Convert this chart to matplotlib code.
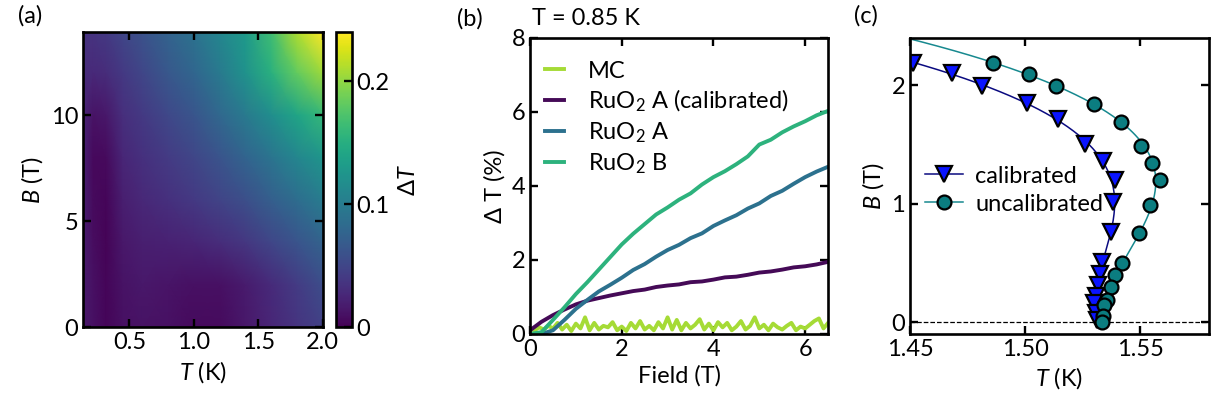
import matplotlib
matplotlib.use("Agg")
import matplotlib.pyplot as plt
import numpy as np

plt.rcParams['font.family'] = ['Lato', 'DejaVu Sans']
plt.rcParams['mathtext.fontset'] = 'custom'
plt.rcParams['mathtext.rm'] = 'Lato'
plt.rcParams['mathtext.it'] = 'Lato:italic'
plt.rcParams['font.size'] = 17
plt.rcParams['axes.linewidth'] = 1.9
for ax_name in ('xtick', 'ytick'):
    plt.rcParams[ax_name + '.direction'] = 'in'
    plt.rcParams[ax_name + '.major.size'] = 5.5
    plt.rcParams[ax_name + '.major.width'] = 1.7
plt.rcParams['xtick.top'] = True
plt.rcParams['ytick.right'] = True

# (a) temperature error map, dT vs T and B
map_T = [0.14, 0.22, 0.32, 0.45, 0.6, 0.8, 1.0, 1.2, 1.4, 1.6, 1.8, 2.0]
map_B = [0, 2, 4, 6, 8, 10, 12, 13.9]
map_dT = [
    [.015, .010, .003, .010, .012, .010, .006, .006, .015, .026, .036, .046],
    [.017, .010, .003, .012, .015, .013, .010, .010, .017, .029, .042, .056],
    [.018, .008, .002, .015, .020, .022, .025, .030, .038, .050, .062, .075],
    [.020, .006, .003, .020, .027, .033, .040, .048, .058, .072, .085, .100],
    [.022, .005, .006, .026, .033, .042, .050, .062, .076, .092, .110, .125],
    [.025, .012, .015, .032, .040, .052, .063, .080, .098, .118, .140, .160],
    [.030, .028, .030, .040, .050, .065, .078, .098, .122, .152, .182, .205],
    [.035, .036, .040, .050, .060, .075, .090, .110, .130, .165, .210, .240],
]

# (b) field dependence at T = 0.85 K
field = np.arange(0, 6.51, 0.25)
field_mc = np.arange(0, 6.51, 0.1)
dT_mc = [0.05, 0.10, 0.18, 0.12, 0.22, 0.15, 0.30, 0.12, 0.25, 0.08,
         0.28, 0.15, 0.45, 0.10, 0.30, 0.12, 0.22, 0.18, 0.32, 0.10,
         0.20, 0.08, 0.30, 0.15, 0.35, 0.12, 0.22, 0.10, 0.32, 0.15,
         0.45, 0.12, 0.38, 0.10, 0.30, 0.15, 0.25, 0.40, 0.12, 0.28,
         0.10, 0.32, 0.18, 0.30, 0.10, 0.20, 0.35, 0.12, 0.22, 0.45,
         0.15, 0.25, 0.10, 0.28, 0.18, 0.12, 0.22, 0.30, 0.10, 0.20,
         0.15, 0.25, 0.35, 0.42, 0.15, 0.30]
dT_a_cal = [0.10, 0.33, 0.51, 0.66, 0.80, 0.90, 0.97, 1.04, 1.10, 1.16,
            1.20, 1.27, 1.31, 1.34, 1.40, 1.42, 1.47, 1.53, 1.55, 1.60,
            1.66, 1.69, 1.74, 1.80, 1.83, 1.88, 1.95]
dT_a = [0.0, 0.0, 0.10, 0.38, 0.68, 0.92, 1.15, 1.33, 1.52, 1.73,
        1.89, 2.09, 2.27, 2.41, 2.59, 2.72, 2.92, 3.07, 3.21, 3.39,
        3.53, 3.73, 3.87, 4.06, 4.24, 4.39, 4.52]
dT_b = [0.0, 0.05, 0.38, 0.72, 1.08, 1.40, 1.74, 2.08, 2.42, 2.71,
        2.97, 3.23, 3.42, 3.63, 3.80, 4.04, 4.24, 4.40, 4.59, 4.80,
        5.12, 5.25, 5.45, 5.61, 5.75, 5.91, 6.03]

# (c) phase boundary B(T)
T_cal = [1.4512, 1.4683, 1.4814, 1.5009, 1.5145, 1.5259, 1.5340, 1.5390,
         1.5382, 1.5372, 1.5335, 1.5328, 1.5318, 1.5309, 1.5301, 1.5307, 1.5314]
B_cal = [2.19, 2.10, 1.99, 1.85, 1.71, 1.50, 1.36, 1.20,
         1.01, 0.76, 0.51, 0.41, 0.31, 0.22, 0.165, 0.076, 0.02]
T_unc = [1.4860, 1.5016, 1.5134, 1.5301, 1.5419, 1.5504, 1.5554, 1.5587,
         1.5544, 1.5497, 1.5422, 1.5393, 1.5374, 1.5357, 1.5343, 1.5340, 1.5336]
B_unc = [2.19, 2.09, 1.99, 1.84, 1.69, 1.49, 1.34, 1.20,
         0.99, 0.75, 0.50, 0.40, 0.30, 0.19, 0.145, 0.05, 0.0]

fig = plt.figure(figsize=(12.21, 4.09), dpi=100)

# ---- (a)
ax1 = fig.add_axes([0.068, 0.1998, 0.1963, 0.7213])
cax = fig.add_axes([0.2752, 0.1998, 0.0129, 0.7213])
mesh = ax1.pcolormesh(map_T, map_B, np.array(map_dT), shading='gouraud',
                      cmap='viridis', vmin=0, vmax=0.24, rasterized=True)
ax1.set_xlim(0.14, 2.0)
ax1.set_ylim(0, 13.9)
ax1.set_xticks([0.5, 1.0, 1.5, 2.0])
ax1.set_yticks([0, 5, 10])
ax1.set_xlabel(r'$T$ (K)')
ax1.set_ylabel(r'$B$ (T)')
cb = fig.colorbar(mesh, cax=cax, ticks=[0, 0.1, 0.2])
cb.ax.set_yticklabels(['0', '0.1', '0.2'])
cb.ax.tick_params(direction='in', length=5.5, width=1.7)
cb.outline.set_linewidth(1.9)
cb.set_label(r'Δ$T$', labelpad=6)

# ---- (b)
ax2 = fig.add_axes([0.4341, 0.1834, 0.2441, 0.7237])
ax2.plot(field_mc, dT_mc, color='#a5db36', lw=2.8, label='MC')
ax2.plot(field, dT_a_cal, color='#450a57', lw=2.8,
         label=r'RuO$_2$ A (calibrated)')
ax2.plot(field, dT_a, color='#2c718e', lw=2.8, label=r'RuO$_2$ A')
ax2.plot(field, dT_b, color='#2db27d', lw=2.8, label=r'RuO$_2$ B')
ax2.set_xlim(0, 6.5)
ax2.set_ylim(0, 8)
ax2.set_xticks([0, 2, 4, 6])
ax2.set_yticks([0, 2, 4, 6, 8])
ax2.set_xlabel('Field (T)')
ax2.set_ylabel('Δ T (%)')
ax2.legend(loc='upper left', bbox_to_anchor=(0.02, 0.955), frameon=False,
           handlelength=0.8, handletextpad=1.0, labelspacing=0.26,
           borderaxespad=0)

# ---- (c)
ax3 = fig.add_axes([0.7453, 0.1834, 0.2449, 0.7245])
ax3.axhline(0, color='k', lw=0.9, ls='--', zorder=1)
B_line = np.linspace(0, 2.45, 200)
fit_cal = np.polyfit(B_cal, T_cal, 5)
fit_unc = np.polyfit(B_unc, T_unc, 4)
ax3.plot(np.polyval(fit_cal, B_line), B_line, color='#0a0a80', lw=1.1)
ax3.plot(np.polyval(fit_unc, B_line), B_line, color='#17898f', lw=1.1)
ax3.plot(T_cal, B_cal, 'v', ms=11, mfc='#0a14ff', mec='k', mew=1.6,
         ls='none')
ax3.plot(T_unc, B_unc, 'o', ms=10, mfc='#0b7d80', mec='k', mew=1.6,
         ls='none')
h1, = ax3.plot([], [], color='#0a0a80', lw=1.1, marker='v', ms=11,
               mfc='#0a14ff', mec='k', mew=1.6)
h2, = ax3.plot([], [], color='#17898f', lw=1.1, marker='o', ms=10,
               mfc='#0b7d80', mec='k', mew=1.6)
ax3.legend([h1, h2], ['calibrated', 'uncalibrated'], loc='upper left',
           bbox_to_anchor=(0.02, 0.6), frameon=False, handlelength=1.6,
           handletextpad=0.5, labelspacing=0.3, borderaxespad=0)
ax3.set_xlim(1.45, 1.58)
ax3.set_ylim(-0.1, 2.4)
ax3.set_xticks([1.45, 1.50, 1.55])
ax3.set_yticks([0, 1, 2])
ax3.set_xlabel(r'$T$ (K)')
ax3.set_ylabel(r'$B$ (T)')

fig.text(0.025, 0.962, '(a)', ha='center', va='center')
fig.text(0.385, 0.955, '(b)', ha='center', va='center')
fig.text(0.436, 0.955, 'T = 0.85 K', ha='left', va='center')
fig.text(0.709, 0.962, '(c)', ha='center', va='center')

fig.savefig('out.png', dpi=100)
